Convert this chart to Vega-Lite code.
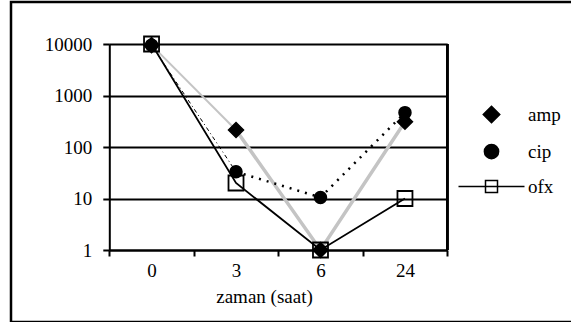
{
  "$schema": "https://vega.github.io/schema/vega-lite/v6.json",
  "width": 600,
  "height": 320,
  "autosize": {"type": "none"},
  "padding": {"left": 11, "top": 2, "right": 0, "bottom": 0},
  "background": "white",
  "config": {
    "view": {"stroke": "black", "strokeWidth": 2.5},
    "font": "Liberation Serif",
    "axis": {
      "labelFont": "Liberation Serif",
      "labelFontSize": 19,
      "labelColor": "black",
      "titleFont": "Liberation Serif",
      "titleFontSize": 19,
      "titleFontWeight": "normal",
      "titleColor": "black",
      "domainColor": "black",
      "domainWidth": 2,
      "tickColor": "black",
      "tickWidth": 2,
      "gridColor": "black",
      "gridWidth": 1.8,
      "gridOpacity": 1
    }
  },
  "data": {
    "values": [
      {"series": "amp", "hour": "0", "value": 9500},
      {"series": "amp", "hour": "3", "value": 214},
      {"series": "amp", "hour": "6", "value": 1},
      {"series": "amp", "hour": "24", "value": 310},
      {"series": "cip", "hour": "0", "value": 9500},
      {"series": "cip", "hour": "3", "value": 33},
      {"series": "cip", "hour": "6", "value": 10.5},
      {"series": "cip", "hour": "24", "value": 465},
      {"series": "ofx", "hour": "0", "value": 10000},
      {"series": "ofx", "hour": "3", "value": 20},
      {"series": "ofx", "hour": "6", "value": 1},
      {"series": "ofx", "hour": "24", "value": 10}
    ]
  },
  "encoding": {
    "x": {
      "field": "hour",
      "type": "ordinal",
      "scale": {"type": "band", "domain": ["0", "3", "6", "24"], "range": [98.3, 436.2], "paddingInner": 0, "paddingOuter": 0},
      "axis": {
        "title": "zaman (saat)",
        "offset": -72,
        "tickBand": "extent",
        "tickSize": 6,
        "labelPadding": 5,
        "labelAngle": 0,
        "grid": false,
        "titleX": 253,
        "titleY": 52,
        "titleAlign": "center",
        "titleBaseline": "alphabetic"
      }
    },
    "y": {
      "field": "value",
      "type": "quantitative",
      "scale": {"type": "log", "domain": [1, 10000], "range": [248, 42]},
      "axis": {
        "title": null,
        "values": [1, 10, 100, 1000, 10000],
        "format": "d",
        "offset": -98.3,
        "tickSize": 6.5,
        "labelPadding": 11,
        "grid": true
      }
    }
  },
  "layer": [
    {
      "mark": {"type": "rule", "color": "black", "strokeWidth": 2},
      "encoding": {
        "x": {"datum": "24", "type": "ordinal", "bandPosition": 1},
        "y": {"datum": 1, "type": "quantitative"},
        "y2": {"datum": 10000}
      }
    },
    {
      "transform": [{"filter": "datum.series === 'amp' && (datum.hour === '0' || datum.hour === '3')"}],
      "mark": {"type": "line", "color": "#c4c4c4", "strokeWidth": 2}
    },
    {
      "transform": [{"filter": "datum.series === 'amp' && datum.hour !== '0'"}],
      "mark": {"type": "line", "color": "#c4c4c4", "strokeWidth": 3.5}
    },
    {
      "transform": [{"filter": "datum.series === 'cip' && (datum.hour === '0' || datum.hour === '3')"}],
      "mark": {"type": "line", "color": "black", "strokeWidth": 1, "strokeDash": [4, 3, 1, 3]}
    },
    {
      "transform": [{"filter": "datum.series === 'cip' && datum.hour !== '0'"}],
      "mark": {"type": "line", "color": "black", "strokeWidth": 2.5, "strokeDash": [2, 6], "strokeCap": "butt"}
    },
    {
      "transform": [{"filter": "datum.series === 'ofx'"}],
      "mark": {"type": "line", "color": "black", "strokeWidth": 1.8}
    },
    {
      "transform": [{"filter": "datum.series === 'amp'"}],
      "mark": {"type": "point", "shape": "M0,-1L1,0L0,1L-1,0Z", "filled": true, "fill": "black", "stroke": "black", "strokeWidth": 1.5, "size": 225, "opacity": 1}
    },
    {
      "transform": [{"filter": "datum.series === 'cip'"}],
      "mark": {"type": "point", "shape": "M-0.8,0A0.8,0.8 0 1,0 0.8,0A0.8,0.8 0 1,0 -0.8,0Z", "filled": true, "fill": "black", "stroke": "black", "strokeWidth": 1.5, "size": 225, "opacity": 1}
    },
    {
      "transform": [{"filter": "datum.series === 'ofx'"}],
      "mark": {"type": "point", "shape": "M-1,-1H1V1H-1Z", "filled": false, "fill": "transparent", "stroke": "black", "strokeWidth": 1.8, "size": 225, "opacity": 1}
    },
    {
      "transform": [{"filter": "false"}],
      "mark": {"type": "point", "filled": true, "stroke": "black", "strokeWidth": 1.5, "opacity": 1},
      "encoding": {
        "shape": {
          "field": "series",
          "type": "nominal",
          "scale": {
            "domain": ["amp", "cip", "ofx"],
            "range": ["M0,-1.1L1.1,0L0,1.1L-1.1,0Z", "M-0.95,0A0.95,0.95 0 1,0 0.95,0A0.95,0.95 0 1,0 -0.95,0Z", "M-4.4,0H4.4M-0.8,-0.8H0.8V0.8H-0.8Z"]
          },
          "legend": {
            "orient": "none",
            "legendX": 471,
            "legendY": 103,
            "title": null,
            "padding": 0,
            "symbolSize": 225,
            "labelFont": "Liberation Serif",
            "labelFontSize": 19,
            "labelColor": "black",
            "labelOffset": 27,
            "rowPadding": 15
          }
        },
        "fill": {
          "field": "series",
          "type": "nominal",
          "scale": {"domain": ["amp", "cip", "ofx"], "range": ["black", "black", "transparent"]}
        }
      }
    }
  ]
}
